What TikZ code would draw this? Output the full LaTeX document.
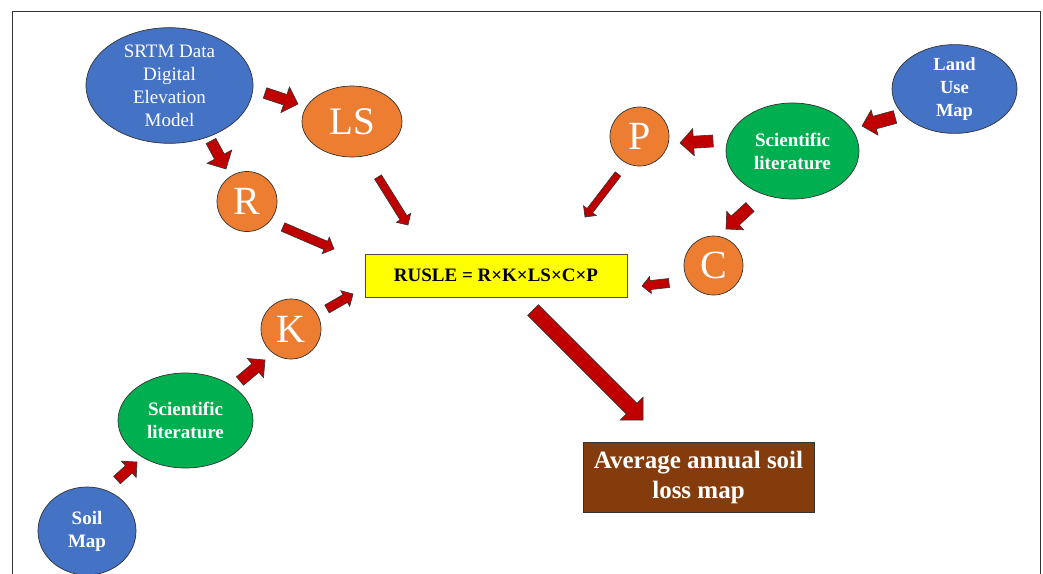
\documentclass[tikz,border=0pt]{standalone}
\usepackage{fontspec}
\setmainfont{Liberation Serif}
\usetikzlibrary{shapes.geometric,calc}
\definecolor{cblue}{HTML}{4472C4}
\definecolor{corange}{HTML}{ED7D31}
\definecolor{cgreen}{HTML}{00B050}
\definecolor{cbrown}{HTML}{843C0C}
\definecolor{cred}{HTML}{C00000}
\definecolor{cyell}{HTML}{FFFF00}
\newcommand{\blockarr}[4]{%
  \coordinate (hb) at ($(#2)!#4!(#1)$);
  \draw[blk] ($(#1)!#3!90:(#2)$) -- ($(hb)!#3!90:(#2)$) -- ($(hb)!#4!90:(#2)$) -- (#2)
    -- ($(hb)!#4!-90:(#2)$) -- ($(hb)!#3!-90:(#2)$) -- ($(#1)!#3!-90:(#2)$) -- cycle;}
\tikzset{
  blk/.style={fill=cred, draw=black!80, line width=0.6pt, line join=miter},
  ell/.style={ellipse, draw=black!80, line width=0.7pt, inner sep=0pt, align=center, text=white},
  circ/.style={circle, draw=black!80, line width=0.7pt, inner sep=0pt, fill=corange, text=white,
    minimum size=60pt, font=\fontsize{40}{40}\selectfont},
  plain/.style={font=\fontsize{19}{23}\selectfont},
  bold/.style={font=\fontsize{19}{23}\selectfont\bfseries},
}
\begin{document}
\begin{tikzpicture}[x=1pt,y=-1pt]
\useasboundingbox (0,0) rectangle (1043,573);
\clip (0,0) rectangle (1043,573);
\fill[white] (0,0) rectangle (1043,573);
% frame
\draw[black!80, line width=1pt] (12,590) -- (12,11) -- (1040,11) -- (1040,590);

% nodes
\node[ell, fill=cblue, plain, minimum width=167pt, minimum height=103pt] (srtm) at (169.5,85.5)
  {SRTM Data\\Digital\\Elevation\\Model};
\node[ell, fill=corange, minimum width=100pt, minimum height=71pt,
  font=\fontsize{39}{39}\selectfont] (ls) at (352,121.5) {LS};
\node[circ] (r) at (247,201.5) {R};
\node[circ] (k) at (291,329) {K};
\node[circ, minimum size=59pt] (p) at (639.5,136.5) {P};
\node[circ, minimum size=59pt] (c) at (713.5,265.5) {C};
\node[ell, fill=cblue, font=\fontsize{18.5}{23}\selectfont\bfseries,
  minimum width=125pt, minimum height=80pt] (land) at (954.5,89) {Land\\Use\\Map};
\node[ell, fill=cgreen, bold, minimum width=133pt, minimum height=96pt] (sci2) at (792.5,151)
  {Scientific\\literature};
\node[ell, fill=cgreen, bold, minimum width=135pt, minimum height=95pt] (sci1) at (185.5,420.5)
  {Scientific\\literature};
\node[ell, fill=cblue, bold, minimum width=98pt, minimum height=88pt] (soil) at (87,531)
  {Soil\\Map};
\node[draw=black!70, fill=cyell, line width=0.7pt, minimum width=262pt, minimum height=43pt,
  inner sep=0pt, font=\fontsize{19}{23}\selectfont\bfseries] (rusle) at (496,275.5)
  {RUSLE = R×K×LS×C×P};
\node[draw=black!80, fill=cbrown, line width=0.7pt, minimum width=231pt, minimum height=70pt,
  inner sep=0pt, align=center, text=white, font=\fontsize{25}{30}\selectfont\bfseries]
  (out) at (698.5,477) {Average annual soil\\loss map};

% arrow end points
\coordinate (a1s) at (265,93);   \coordinate (a1e) at (298,104);
\coordinate (a2s) at (211,141);  \coordinate (a2e) at (226,169);
\coordinate (a3s) at (378,177);  \coordinate (a3e) at (408,225);
\coordinate (a4s) at (283,227);  \coordinate (a4e) at (334,249);
\coordinate (a5s) at (327,309);  \coordinate (a5e) at (353,294);
\coordinate (a6s) at (240,381);  \coordinate (a6e) at (265,360);
\coordinate (a7s) at (117,480);  \coordinate (a7e) at (137,462);
\coordinate (a8s) at (895,117);  \coordinate (a8e) at (862,126);
\coordinate (a9s) at (713,141);  \coordinate (a9e) at (680,143);
\coordinate (a10s) at (618,174); \coordinate (a10e) at (585,217);
\coordinate (a11s) at (750,207); \coordinate (a11e) at (726,229);
\coordinate (a12s) at (669,283); \coordinate (a12e) at (642,286);
\coordinate (a13s) at (533,310); \coordinate (a13e) at (643,420);

\blockarr{a1s}{a1e}{5.5pt}{13.5pt}
\blockarr{a2s}{a2e}{5.5pt}{14pt}
\blockarr{a3s}{a3e}{4pt}{8.5pt}
\blockarr{a4s}{a4e}{4.5pt}{9pt}
\blockarr{a5s}{a5e}{4.5pt}{9pt}
\blockarr{a6s}{a6e}{5.5pt}{12.5pt}
\blockarr{a7s}{a7e}{5pt}{11pt}
\blockarr{a8s}{a8e}{6.5pt}{13pt}
\blockarr{a9s}{a9e}{6pt}{13.5pt}
\blockarr{a10s}{a10e}{3.5pt}{8pt}
\blockarr{a11s}{a11e}{6pt}{12.5pt}
\blockarr{a12s}{a12e}{4.5pt}{8.5pt}
\blockarr{a13s}{a13e}{7.5pt}{16pt}
\end{tikzpicture}
\end{document}
